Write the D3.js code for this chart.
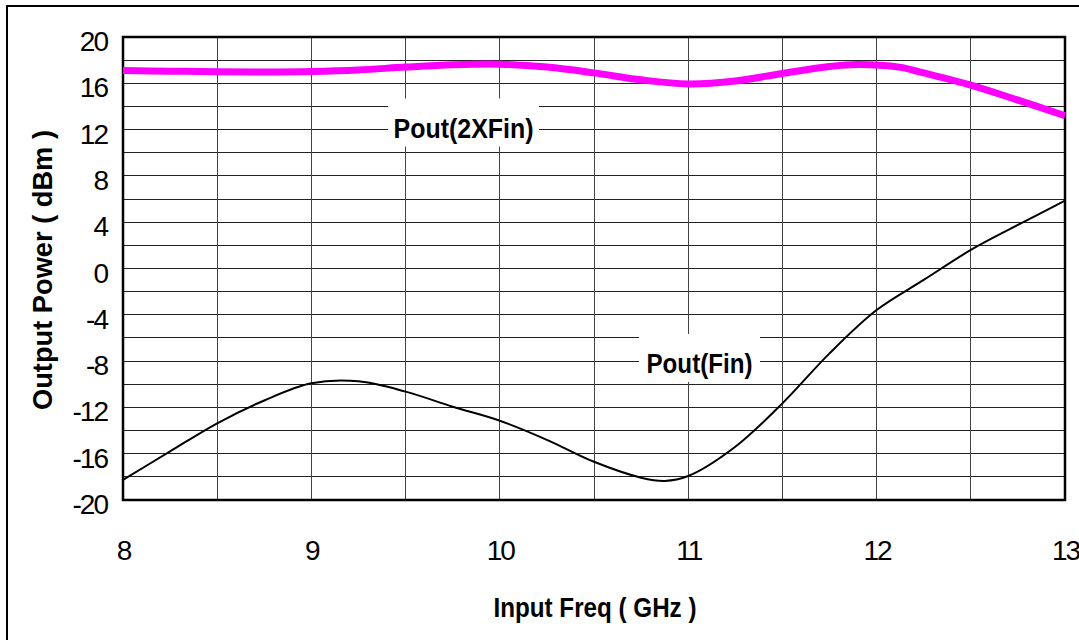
<!DOCTYPE html>
<html>
<head>
<meta charset="utf-8">
<script src="https://cdn.jsdelivr.net/npm/d3@7"></script>
<style>
  html, body { margin: 0; padding: 0; background: #fff; }
  svg { display: block; }
  text { font-family: "Liberation Sans", Arial, sans-serif; fill: #000; }
</style>
</head>
<body>
<svg id="chart" width="1079" height="640"></svg>
<script>
// ---- data ----
const freqFin = [8, 8.25, 8.5, 8.75, 9, 9.25, 9.5, 9.75, 10, 10.25, 10.5, 10.75, 10.875, 11, 11.25, 11.5, 11.75, 12, 12.25, 12.5, 12.75, 13];
const poutFin = [-18.27, -15.8, -13.37, -11.4, -9.92, -9.75, -10.64, -11.94, -13.15, -14.8, -16.7, -18.07, -18.35, -17.93, -15.4, -11.65, -7.33, -3.59, -0.99, 1.6, 3.76, 5.86];
const freq2x = [8, 8.25, 8.5, 8.75, 9, 9.25, 9.5, 9.75, 10, 10.25, 10.5, 10.75, 11, 11.25, 11.5, 11.75, 11.9, 12.12, 12.25, 12.5, 12.75, 13];
const pout2x = [17.1, 17.05, 17.0, 16.98, 17.02, 17.15, 17.4, 17.6, 17.65, 17.4, 16.9, 16.3, 15.95, 16.2, 16.85, 17.45, 17.62, 17.4, 16.9, 15.85, 14.55, 13.2];
const xTicks = [8, 9, 10, 11, 12, 13];
const yTicks = [20, 16, 12, 8, 4, 0, -4, -8, -12, -16, -20];
const xGrid = d3.range(8, 13.01, 0.5);
const yGrid = d3.range(-20, 20.01, 2);
const xTitle = "Input Freq ( GHz )";
const yTitle = "Output Power ( dBm )";
const label2x = "Pout(2XFin)";
const labelFin = "Pout(Fin)";

// ---- layout ----
const L = 123, R = 1065, T = 37, B = 500;
const svg = d3.select("#chart");
const x = d3.scaleLinear().domain([8, 13]).range([L, R]);
const y = d3.scaleLinear().domain([-20, 20]).range([B, T]);

// outer border
svg.append("rect").attr("x", 7).attr("y", 6).attr("width", 1200).attr("height", 800)
  .attr("fill", "none").attr("stroke", "#000").attr("stroke-width", 2);

// grid
svg.append("g").selectAll("line").data(yGrid).join("line")
  .attr("x1", L).attr("x2", R).attr("y1", d => y(d)).attr("y2", d => y(d))
  .attr("stroke", "#222").attr("stroke-width", 1).attr("shape-rendering", "crispEdges");
svg.append("g").selectAll("line").data(xGrid).join("line")
  .attr("y1", T).attr("y2", B).attr("x1", d => x(d)).attr("x2", d => x(d))
  .attr("stroke", "#444").attr("stroke-width", 1).attr("shape-rendering", "crispEdges");

// label boxes (white background over grid)
function labelBox(cx, baseline, w, tw, txt) {
  svg.append("rect").attr("x", cx - w / 2).attr("y", baseline - 39).attr("width", w).attr("height", 48)
    .attr("fill", "#fff");
  svg.append("text").attr("x", cx).attr("y", baseline).attr("text-anchor", "middle")
    .attr("font-size", 27).attr("font-weight", "bold")
    .attr("textLength", tw).attr("lengthAdjust", "spacingAndGlyphs")
    .text(txt);
}
labelBox(463.5, 137.5, 151, 140, label2x);
labelBox(699.5, 373, 121, 106, labelFin);

// plot border
svg.append("rect").attr("x", L).attr("y", T).attr("width", R - L).attr("height", B - T)
  .attr("fill", "none").attr("stroke", "#000").attr("stroke-width", 2.5);

// lines
const line = d3.line().curve(d3.curveCatmullRom.alpha(0.5));
svg.append("path")
  .attr("d", line(freqFin.map((f, i) => [x(f), y(poutFin[i])])))
  .attr("fill", "none").attr("stroke", "#000").attr("stroke-width", 2);
svg.append("path")
  .attr("d", line(freq2x.map((f, i) => [x(f), y(pout2x[i])])))
  .attr("fill", "none").attr("stroke", "#ff00ff").attr("stroke-width", 7);

// axes (tick labels only)
const fmt = d => String(d);
const yAxis = d3.axisLeft(y).tickValues(yTicks).tickSize(0).tickPadding(16).tickFormat(fmt);
const gy = svg.append("g").attr("transform", `translate(${L},0)`).call(yAxis);
gy.select(".domain").remove();
gy.selectAll("text").attr("font-size", 28).attr("letter-spacing", "-2px")
  .attr("font-family", "Liberation Sans, Arial, sans-serif").attr("dy", "13.5").attr("fill", "#000");

const xAxis = d3.axisBottom(x).tickValues(xTicks).tickSize(0).tickPadding(0).tickFormat(fmt);
const gx = svg.append("g").attr("transform", `translate(0,${B})`).call(xAxis);
gx.select(".domain").remove();
gx.selectAll("text").attr("font-size", 28).attr("letter-spacing", "-2px")
  .attr("font-family", "Liberation Sans, Arial, sans-serif").attr("dy", null).attr("y", 60).attr("fill", "#000");

// titles
svg.append("text").attr("x", 595).attr("y", 617).attr("text-anchor", "middle")
  .attr("font-size", 28).attr("font-weight", "bold")
  .attr("textLength", 203).attr("lengthAdjust", "spacingAndGlyphs")
  .text(xTitle);
svg.append("text").attr("transform", "translate(52,270) rotate(-90)").attr("text-anchor", "middle")
  .attr("font-size", 27).attr("font-weight", "bold")
  .attr("textLength", 280).attr("lengthAdjust", "spacingAndGlyphs")
  .text(yTitle);
</script>
</body>
</html>
